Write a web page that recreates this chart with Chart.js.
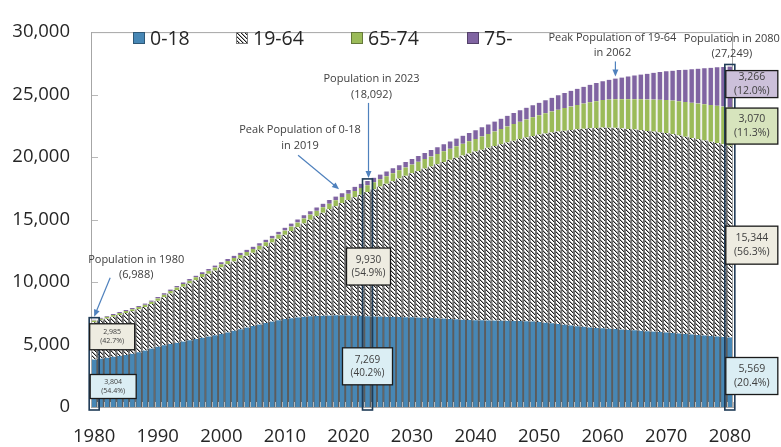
<!DOCTYPE html>
<html>
<head>
<meta charset="utf-8">
<script src="https://cdn.jsdelivr.net/npm/chart.js@4.4.1/dist/chart.umd.min.js"></script>
<style>
  html, body { margin: 0; padding: 0; background: #fff; }
  #wrap { width: 781px; height: 447px; position: relative; }
</style>
</head>
<body>
<div id="wrap"><canvas id="chart" width="781" height="447"></canvas></div>
<script>
const years = Array.from({ length: 101 }, (_, i) => 1980 + i);
const seriesNames = ['0-18', '19-64', '65-74', '75-'];

const age0to18 = [
  3804, 3880, 3950, 4020, 4090, 4170, 4260, 4380, 4520, 4680,
  4830, 4940, 5040, 5140, 5240, 5340, 5440, 5540, 5640, 5740,
  5840, 5970, 6100, 6230, 6360, 6480, 6600, 6720, 6840, 6950,
  7040, 7110, 7170, 7220, 7260, 7290, 7310, 7325, 7335, 7340,
  7330, 7310, 7290, 7269, 7250, 7235, 7220, 7210, 7200, 7190,
  7180, 7160, 7140, 7120, 7100, 7080, 7050, 7020, 6990, 6970,
  6950, 6940, 6930, 6920, 6910, 6900, 6890, 6880, 6870, 6850,
  6800, 6750, 6700, 6640, 6590, 6530, 6470, 6420, 6370, 6330,
  6300, 6270, 6240, 6200, 6170, 6140, 6100, 6070, 6040, 6000,
  5970, 5930, 5890, 5850, 5810, 5770, 5730, 5690, 5650, 5610,
  5569,
];
const age19to64 = [
  2985, 3053, 3125, 3197, 3279, 3351, 3412, 3452, 3492, 3560,
  3670, 3849, 4038, 4217, 4386, 4545, 4703, 4861, 5019, 5177,
  5330, 5446, 5551, 5646, 5741, 5856, 5990, 6144, 6318, 6512,
  6735, 6971, 7217, 7473, 7729, 7985, 8241, 8492, 8738, 8979,
  9225, 9470, 9704, 9930, 10173, 10404, 10635, 10861, 11087, 11305,
  11520, 11728, 11936, 12134, 12332, 12530, 12732, 12934, 13136, 13318,
  13500, 13655, 13810, 13965, 14120, 14275, 14420, 14565, 14700, 14835,
  15000, 15135, 15270, 15405, 15520, 15645, 15760, 15855, 15940, 16005,
  16060, 16085, 16100, 16095, 16085, 16070, 16050, 16025, 16000, 15975,
  15950, 15895, 15840, 15780, 15720, 15660, 15600, 15540, 15475, 15410,
  15344,
];
const age65to74 = [
  130, 135, 140, 145, 150, 155, 160, 166, 172, 180,
  190, 197, 204, 211, 218, 225, 232, 239, 246, 253,
  260, 268, 277, 286, 295, 304, 313, 322, 331, 340,
  350, 365, 380, 395, 410, 425, 440, 455, 470, 485,
  500, 513, 526, 540, 562, 584, 606, 628, 650, 675,
  700, 730, 760, 790, 820, 850, 880, 910, 940, 970,
  1000, 1055, 1110, 1165, 1220, 1275, 1330, 1385, 1440, 1495,
  1550, 1615, 1680, 1745, 1810, 1875, 1940, 2005, 2070, 2135,
  2200, 2245, 2290, 2335, 2380, 2425, 2470, 2515, 2560, 2605,
  2650, 2692, 2734, 2776, 2818, 2860, 2902, 2944, 2986, 3028,
  3070,
];
const age75plus = [
  69, 72, 75, 78, 81, 84, 88, 92, 96, 100,
  110, 114, 118, 122, 126, 130, 135, 140, 145, 150,
  160, 166, 172, 178, 184, 190, 197, 204, 211, 218,
  225, 234, 243, 252, 261, 270, 279, 288, 297, 306,
  315, 327, 340, 353, 365, 377, 389, 401, 413, 430,
  450, 472, 494, 516, 538, 560, 588, 616, 644, 672,
  700, 730, 760, 790, 820, 850, 880, 910, 940, 970,
  1000, 1050, 1100, 1150, 1200, 1250, 1300, 1350, 1400, 1450,
  1500, 1580, 1660, 1740, 1820, 1900, 1980, 2060, 2140, 2220,
  2300, 2397, 2494, 2591, 2688, 2785, 2880, 2976, 3072, 3169,
  3266,
];
const series = [age0to18, age19to64, age65to74, age75plus];

const FONT = '"Open Sans", "Noto Sans", sans-serif';
const fmt = v => v.toLocaleString('en-US');
const totalAt = i => series.reduce((sum, s) => sum + s[i], 0);
const pct = (s, i) => `(${(series[s][i] / totalAt(i) * 100).toFixed(1)}%)`;

// fine diagonal hatch, pixel by pixel so it stays crisp
function makeHatch() {
  const c = document.createElement('canvas');
  c.width = 4; c.height = 4;
  const g = c.getContext('2d');
  g.fillStyle = '#ffffff';
  g.fillRect(0, 0, 4, 4);
  for (let k = 0; k < 4; k++) {
    g.fillStyle = '#1e1e1e';
    g.fillRect(k, k, 1, 1);
    g.fillStyle = '#a8a8a8';
    g.fillRect((k + 1) % 4, k, 1, 1);
  }
  return g.createPattern(c, 'repeat');
}
const hatch = makeHatch();

const fills = ['#4787B5', hatch, '#9BBB59', '#8064A2'];
const edges = ['#5c5c5c', '#6e6e6e', '#f2f2f2', '#f2f2f2'];

// labelled bars: [year, series, value y-anchor, dx, w, h, fill, font size]
const valueBoxes = [
  [1980, 1, 5620, 18, 45, 26, '#EEECE1', 7],
  [1980, 0, 1640, 19, 46, 24, '#DBEEF4', 7],
  [2023, 1, 11240, 1, 44, 37, '#EEECE1', 10],
  [2023, 0, 3256, 0, 50, 37, '#DBEEF4', 10],
  [2080, 3, 25840, 22, 52, 27, '#CCC0DA', 10.5],
  [2080, 2, 22480, 22, 52, 36, '#D7E4BD', 10.5],
  [2080, 1, 12950, 22, 52, 38, '#EEECE1', 10.5],
  [2080, 0, 2480, 22, 52, 37, '#DBEEF4', 10.5],
];

// callouts: year, lines, text dx, first-line dy from bar top, arrow [dx1, dy1, dx2, dy2]
const callouts = [
  [1980, ['Population in 1980', `(${fmt(totalAt(0))})`], 42, -60, [16, -42, 0, -3]],
  [2019, ['Peak Population of 0-18', 'in 2019'], -42, -63, [-44, -38, -3, -4]],
  [2023, ['Population in 2023', `(${fmt(totalAt(43))})`], 4, -102, [1, -78, 1, -3]],
  [2062, ['Peak Population of 19-64', 'in 2062'], -3, -41, [0, -17, 0, -2]],
  [2080, ['Population in 2080', `(${fmt(totalAt(100))})`], 2, -28, null],
];
const framedYears = [1980, 2023, 2080];

function arrow(ctx, x1, y1, x2, y2) {
  const ang = Math.atan2(y2 - y1, x2 - x1);
  ctx.beginPath();
  ctx.moveTo(x1, y1);
  ctx.lineTo(x2 - 5 * Math.cos(ang), y2 - 5 * Math.sin(ang));
  ctx.stroke();
  ctx.beginPath();
  ctx.moveTo(x2, y2);
  ctx.lineTo(x2 - 7 * Math.cos(ang) + 3 * Math.sin(ang), y2 - 7 * Math.sin(ang) - 3 * Math.cos(ang));
  ctx.lineTo(x2 - 7 * Math.cos(ang) - 3 * Math.sin(ang), y2 - 7 * Math.sin(ang) + 3 * Math.cos(ang));
  ctx.closePath();
  ctx.fill();
}

const annotations = {
  id: 'annotations',
  afterDraw(chart) {
    const { ctx, chartArea: a, scales: { x, y } } = chart;
    const step = (a.right - a.left) / years.length;
    ctx.save();

    // little ticks inside the plot
    ctx.strokeStyle = '#b8b8b8';
    ctx.lineWidth = 1;
    ctx.beginPath();
    for (let i = 0; i <= years.length; i++) {
      const px = Math.round(a.left + i * step) + 0.5;
      ctx.moveTo(px, a.bottom); ctx.lineTo(px, a.bottom - 5);
    }
    for (let v = 5000; v < 30000; v += 5000) {
      const py = Math.round(y.getPixelForValue(v)) + 0.5;
      ctx.moveTo(a.left, py); ctx.lineTo(a.left + 7, py);
    }
    ctx.stroke();

    // plot frame
    ctx.strokeStyle = '#a6a6a6';
    ctx.strokeRect(a.left + 0.5, a.top + 0.5, a.right - a.left - 1, a.bottom - a.top);

    // framed bars
    ctx.strokeStyle = '#1F3B57';
    ctx.lineWidth = 1.6;
    for (const yr of framedYears) {
      const i = yr - years[0];
      const cx = x.getPixelForValue(i);
      const top = y.getPixelForValue(totalAt(i));
      ctx.strokeRect(cx - 5, top - 2, 10, a.bottom + 3 - (top - 2));
    }

    // value boxes
    ctx.textAlign = 'center';
    ctx.textBaseline = 'middle';
    for (const [yr, s, anchor, dx, w, h, fill, size] of valueBoxes) {
      const i = yr - years[0];
      const cx = x.getPixelForValue(i) + dx;
      const cy = y.getPixelForValue(anchor);
      ctx.fillStyle = fill;
      ctx.fillRect(cx - w / 2, cy - h / 2, w, h);
      ctx.strokeStyle = '#1a1a1a';
      ctx.lineWidth = 1.3;
      ctx.strokeRect(cx - w / 2, cy - h / 2, w, h);
      ctx.fillStyle = '#404040';
      ctx.font = `${size}px ${FONT}`;
      ctx.fillText(fmt(series[s][i]), cx, cy - size * 0.65);
      ctx.fillText(pct(s, i), cx, cy + size * 0.65);
    }

    // callouts
    ctx.font = `11px ${FONT}`;
    for (const [yr, lines, tdx, tdy, arr] of callouts) {
      const i = yr - years[0];
      const cx = x.getPixelForValue(i);
      const top = y.getPixelForValue(totalAt(i));
      ctx.fillStyle = '#404040';
      lines.forEach((t, k) => ctx.fillText(t, cx + tdx, top + tdy + k * 15.5));
      if (arr) {
        ctx.strokeStyle = '#4F81BD';
        ctx.fillStyle = '#4F81BD';
        ctx.lineWidth = 1.2;
        arrow(ctx, cx + arr[0], top + arr[1], cx + arr[2], top + arr[3]);
      }
    }

    // legend inside the plot
    const legendX = [133, 236, 351, 467];
    ctx.textAlign = 'left';
    ctx.font = `19.5px ${FONT}`;
    seriesNames.forEach((name, k) => {
      const bx = legendX[k];
      ctx.fillStyle = fills[k];
      ctx.fillRect(bx, 32, 12, 12);
      ctx.strokeStyle = k === 1 ? '#808080' : 'rgba(0,0,0,0.35)';
      ctx.lineWidth = 1;
      ctx.strokeRect(bx + 0.5, 32.5, 11, 11);
      ctx.fillStyle = '#262626';
      ctx.fillText(name, bx + 17, 39);
    });
    ctx.restore();
  },
};

new Chart(document.getElementById('chart'), {
  type: 'bar',
  data: {
    labels: years,
    datasets: series.map((data, k) => ({
      label: seriesNames[k],
      data,
      backgroundColor: fills[k],
      borderColor: edges[k],
      borderWidth: { left: 1.3, right: 1.3, top: 0, bottom: 0 },
      borderSkipped: false,
      barPercentage: 1,
      categoryPercentage: 1,
    })),
  },
  options: {
    responsive: false,
    animation: false,
    layout: { padding: { top: 20, right: 48, left: 0, bottom: 0 } },
    plugins: { legend: { display: false }, tooltip: { enabled: false } },
    scales: {
      x: {
        stacked: true,
        grid: { display: false, drawTicks: false },
        border: { display: true, color: '#a6a6a6' },
        afterFit: scale => { scale.height = 40; },
        ticks: {
          autoSkip: false,
          maxRotation: 0,
          padding: 19,
          color: '#262626',
          font: { family: FONT, size: 18.5 },
          callback: (value, index) => (years[index] % 10 === 0 ? String(years[index]) : ''),
        },
      },
      y: {
        stacked: true,
        min: 0,
        max: 30000,
        grid: { display: false, drawTicks: false },
        border: { display: true, color: '#a6a6a6' },
        afterFit: scale => { scale.width = 91; },
        ticks: {
          stepSize: 5000,
          padding: 21,
          color: '#262626',
          font: { family: FONT, size: 18.5 },
          callback: v => fmt(v),
        },
      },
    },
  },
  plugins: [annotations],
});
</script>
</body>
</html>
